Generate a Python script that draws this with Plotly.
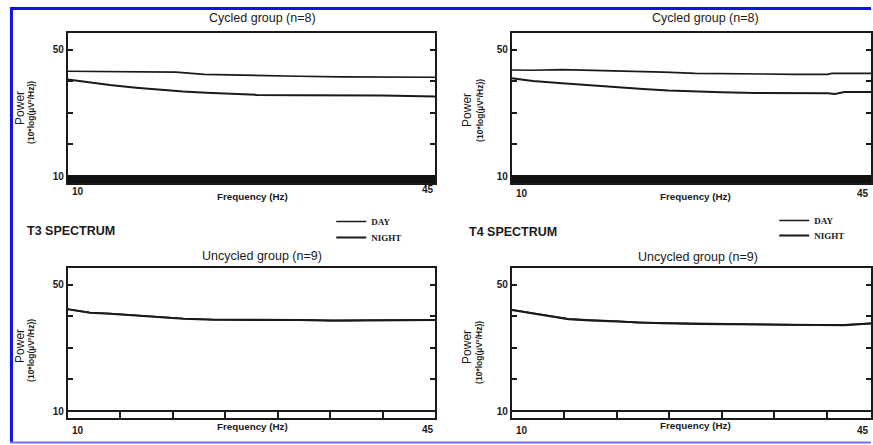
import plotly.graph_objects as go

W, H = 873, 445

# ---------------- data ----------------
# T3 spectrum, cycled group (top-left)
t3c_freq_day = [10, 14, 18, 20.3, 23, 27.5, 32, 36, 40, 45]
t3c_day = [43.2, 43.1, 42.9, 42.9, 42.2, 41.8, 41.6, 41.4, 41.4, 41.3]
t3c_freq_night = [10, 12, 14, 16.5, 18.8, 21, 23.2, 25.5, 28, 32, 35.2, 40, 45]
t3c_night = [40.6, 39.7, 38.8, 38.0, 37.3, 36.8, 36.4, 36.0, 35.7, 35.6, 35.6, 35.5, 35.2]

# T4 spectrum, cycled group (top-right)
t4c_freq_day = [10, 12, 14.8, 18, 21.8, 24.5, 27.5, 30, 33.8, 37, 40.1, 40.5, 44.2, 45]
t4c_day = [43.6, 43.5, 43.7, 43.5, 43.3, 42.9, 42.5, 42.4, 42.2, 42.2, 42.2, 42.5, 42.5, 42.5]
t4c_freq_night = [10, 12, 14.8, 17.5, 19.9, 22.5, 24.9, 27.5, 30, 33.2, 37, 40.1, 40.8, 41.7, 44.2, 45]
t4c_night = [41.0, 40.1, 39.4, 38.7, 38.1, 37.6, 37.1, 36.7, 36.5, 36.3, 36.3, 36.2, 36.0, 36.6, 36.6, 36.6]

# T3 spectrum, uncycled group (bottom-left)
t3u_freq = [10, 12.1, 14, 16.5, 18.75, 21, 23.8, 28, 32.1, 35.2, 38, 41.6, 44.7, 45]
t3u_day = [42.3, 41.2, 40.9, 40.4, 39.8, 39.3, 39.0, 39.0, 38.9, 38.7, 38.7, 38.7, 38.9, 38.9]
t3u_night = [42.2, 41.1, 40.8, 40.3, 39.7, 39.2, 38.9, 38.9, 38.8, 38.6, 38.6, 38.6, 38.8, 38.8]

# T4 spectrum, uncycled group (bottom-right)
t4u_freq = [10, 12.6, 15.4, 17.5, 19.9, 22, 24.3, 27.5, 30.6, 34, 37, 41.7, 44.2, 45]
t4u_day = [42.1, 40.8, 39.2, 38.8, 38.5, 38.0, 37.9, 37.7, 37.6, 37.4, 37.3, 37.3, 37.8, 37.9]
t4u_night = [42.0, 40.7, 39.1, 38.7, 38.4, 37.9, 37.8, 37.6, 37.5, 37.3, 37.2, 37.2, 37.7, 37.8]

y_tickvals = [10, 20, 30, 40, 50]
y_ticktext = ["10", "", "", "", "50"]
x_labels = ["10", "45"]
panel_titles = ["Cycled group (n=8)", "Cycled group (n=8)",
                "Uncycled group (n=9)", "Uncycled group (n=9)"]
spectrum_titles = ["T3 SPECTRUM", "T4 SPECTRUM"]
series_names = ["DAY", "NIGHT"]

Y_RANGE = [7.8, 55.3]
X_RANGE_LEFT = [10, 45]
X_RANGE_RIGHT = [10, 10 + 35 * (873 - 513) / 368]  # right column is cut by the picture edge

SANS = "Arial, Liberation Sans, sans-serif"
SERIF = "Times New Roman, Liberation Serif, serif"


def px(x):
    return x / W


def py(y):
    return 1 - y / H


fig = go.Figure()

panels = [
    # (xaxis, yaxis, day_x, day_y, night_x, night_y, legends for day/night)
    ("x", "y", t3c_freq_day, t3c_day, t3c_freq_night, t3c_night, ("legend", "legend2")),
    ("x2", "y2", t4c_freq_day, t4c_day, t4c_freq_night, t4c_night, ("legend3", "legend4")),
    ("x3", "y3", t3u_freq, t3u_day, t3u_freq, t3u_night, None),
    ("x4", "y4", t4u_freq, t4u_day, t4u_freq, t4u_night, None),
]

for xa, ya, dx, dy, nx, ny, legs in panels:
    fig.add_trace(go.Scatter(x=dx, y=dy, mode="lines", name=series_names[0],
                             line=dict(color="#1a1a1a", width=1.6),
                             xaxis=xa, yaxis=ya, showlegend=legs is not None,
                             legend=legs[0] if legs else "legend"))
    fig.add_trace(go.Scatter(x=nx, y=ny, mode="lines", name=series_names[1],
                             line=dict(color="#1a1a1a", width=2),
                             xaxis=xa, yaxis=ya, showlegend=legs is not None,
                             legend=legs[1] if legs else "legend"))

left_dom = [px(68), px(436)]
right_dom = [px(513), 1.0]
top_dom = [py(183), py(33)]
bot_dom = [py(418), py(268)]

axis_common = dict(showline=True, linecolor="#1a1a1a", linewidth=2, mirror=True,
                   showgrid=False, zeroline=False, ticks="inside", ticklen=6,
                   tickcolor="#1a1a1a", tickwidth=1.5)

xcfg = dict(axis_common, tick0=10, dtick=5, showticklabels=False)
ycfg = dict(axis_common, mirror="ticks", ticklen=5, tickvals=y_tickvals, ticktext=y_ticktext,
            range=Y_RANGE, tickfont=dict(family=SANS, size=10, color="#1a1a1a", weight="bold"))


def legend_at(x, y):
    return dict(x=px(x), y=py(y), xanchor="left", yanchor="top",
                bgcolor="rgba(0,0,0,0)", borderwidth=0, itemwidth=30,
                font=dict(family=SERIF, size=9, color="#1a1a1a", weight="bold"))


fig.update_layout(
    width=W, height=H,
    margin=dict(l=0, r=0, t=0, b=0, pad=0),
    paper_bgcolor="white", plot_bgcolor="white",
    xaxis=dict(xcfg, domain=left_dom, range=X_RANGE_LEFT, anchor="y"),
    xaxis2=dict(xcfg, domain=right_dom, range=X_RANGE_RIGHT, anchor="y2"),
    xaxis3=dict(xcfg, domain=left_dom, range=X_RANGE_LEFT, anchor="y3"),
    xaxis4=dict(xcfg, domain=right_dom, range=X_RANGE_RIGHT, anchor="y4"),
    yaxis=dict(ycfg, domain=top_dom, anchor="x"),
    yaxis2=dict(ycfg, domain=top_dom, anchor="x2"),
    yaxis3=dict(ycfg, domain=bot_dom, anchor="x3"),
    yaxis4=dict(ycfg, domain=bot_dom, anchor="x4"),
    legend=legend_at(332, 207),
    legend2=legend_at(332, 223),
    legend3=legend_at(776, 206),
    legend4=legend_at(776, 221),
)

shapes = []
# thick black band along the bottom of the cycled panels
for xa, ya in [("x", "y"), ("x2", "y2")]:
    shapes.append(dict(type="rect", xref=f"{xa} domain", yref=ya, x0=0, x1=1,
                       y0=Y_RANGE[0], y1=10.3, fillcolor="#111111", line=dict(width=0)))
# baseline at 10 in the uncycled panels
for xa, ya in [("x3", "y3"), ("x4", "y4")]:
    shapes.append(dict(type="line", xref=f"{xa} domain", yref=ya, x0=0, x1=1,
                       y0=10, y1=10, line=dict(color="#1a1a1a", width=2)))
# blue frame of the screenshot
shapes.append(dict(type="line", xref="paper", yref="paper", x0=px(10), x1=1.0,
                   y0=py(8.5), y1=py(8.5), line=dict(color="#1010f0", width=3)))
shapes.append(dict(type="line", xref="paper", yref="paper", x0=px(11.5), x1=px(11.5),
                   y0=py(7), y1=py(443), line=dict(color="#1010f0", width=3)))
shapes.append(dict(type="line", xref="paper", yref="paper", x0=px(10), x1=1.0,
                   y0=py(442.5), y1=py(442.5), line=dict(color="#7070f0", width=2)))
fig.update_layout(shapes=shapes)

ann = []


def text(t, x, y, size=10, bold=False, family=SANS, angle=0, xanchor="center"):
    ann.append(dict(text=t, x=px(x), y=py(y), xref="paper", yref="paper",
                    xanchor=xanchor, yanchor="middle", showarrow=False, textangle=angle,
                    font=dict(family=family, size=size, color="#1a1a1a",
                              weight="bold" if bold else "normal")))


# panel titles
text(panel_titles[0], 263, 18, size=12.5)
text(panel_titles[1], 707, 18, size=12.5)
text(panel_titles[2], 263, 256, size=12.5)
text(panel_titles[3], 700, 257, size=12.5)
# spectrum headings
text(spectrum_titles[0], 25, 231, size=12.5, bold=True, xanchor="left")
text(spectrum_titles[1], 468, 232, size=12.5, bold=True, xanchor="left")
# x axis titles and tick labels
for cx, fy in [(253, 197), (697, 197), (253, 426), (697, 425)]:
    text("Frequency (Hz)", cx, fy, size=9.8, bold=True)
text(x_labels[0], 70, 191, size=10, bold=True, xanchor="left")
text(x_labels[1], 437, 190, size=10, bold=True, xanchor="right")
text(x_labels[0], 515, 193, size=10, bold=True, xanchor="left")
text(x_labels[1], 873, 193, size=10, bold=True, xanchor="right")
text(x_labels[0], 70, 430, size=10, bold=True, xanchor="left")
text(x_labels[1], 437, 429, size=10, bold=True, xanchor="right")
text(x_labels[0], 515, 430, size=10, bold=True, xanchor="left")
text(x_labels[1], 873, 430, size=10, bold=True, xanchor="right")
# y axis titles
for x1, x2, y1, y2 in [(20, 31, 108, 112), (468, 481, 110, 110),
                       (20, 31, 346, 350), (468, 480, 347, 352)]:
    text("Power", x1, y1, size=12, angle=-90)
    text("(10*log(µV²/Hz))", x2, y2, size=8.5, bold=True, angle=-90)

fig.update_layout(annotations=ann)

fig.write_html("out.html", config={"displayModeBar": False},
               post_script="document.body.style.margin='0px';document.body.style.overflow='hidden';")
